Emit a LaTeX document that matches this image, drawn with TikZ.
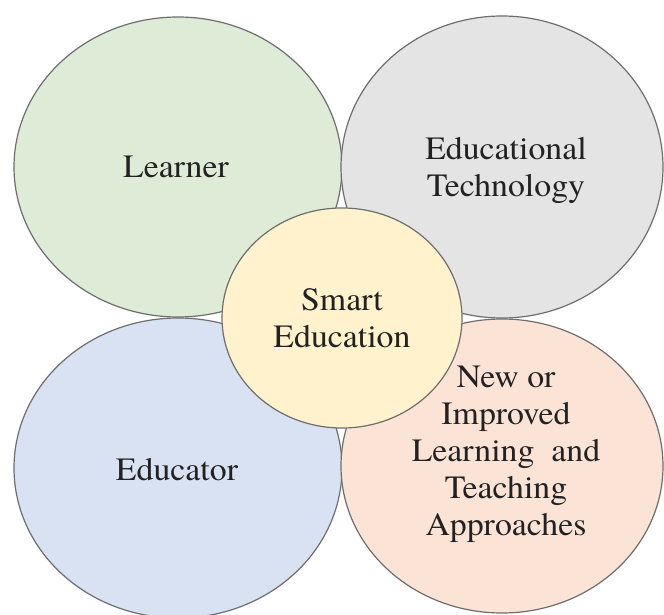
\documentclass[tikz,border=0pt]{standalone}
\usepackage{fontspec}
\setmainfont{texgyretermes}[Extension=.otf,UprightFont=*-regular,FakeStretch=1.04]
\usetikzlibrary{shapes.geometric}

\definecolor{learnergreen}{HTML}{DEEBD7}
\definecolor{techgray}{HTML}{E4E4E4}
\definecolor{educatorblue}{HTML}{D9E2F2}
\definecolor{approachpeach}{HTML}{FBE3D6}
\definecolor{smartyellow}{HTML}{FFF2CC}
\definecolor{bordergray}{HTML}{6E6E6E}
\definecolor{textgray}{HTML}{222222}

\begin{document}
\begin{tikzpicture}[x=1pt,y=-1pt,
        bubble/.style={shape=ellipse,draw=bordergray,line width=1.2pt,inner sep=0pt},
        bubbletext/.style={align=center,text=textgray,inner sep=0pt,font=\fontsize{32.5}{37}\selectfont}]
        \useasboundingbox[fill=white] (0,0) rectangle (664,615);

        \node[bubble,fill=learnergreen,minimum width=328,minimum height=300]   (L) at (178,167) {};
        \node[bubble,fill=techgray,minimum width=322,minimum height=302]       (T) at (502,167) {};
        \node[bubble,fill=educatorblue,minimum width=328,minimum height=300]   (E) at (178,468) {};
        \node[bubble,fill=approachpeach,minimum width=322,minimum height=294]  (A) at (502,466) {};
        \node[bubble,fill=smartyellow,minimum width=240,minimum height=220]    (S) at (342,318) {};

        \node[bubbletext] (Ltext) at (176,167) {Learner};
        \node[bubbletext] (Ttext) at (506,170) {Educational\\Technology};
        \node[bubbletext] (Etext) at (177,470) {Educator};
        \node[bubbletext] (Atext) at (506,454) {New or\\Improved\\Learning\ \ and\\Teaching\\Approaches};
        \node[bubbletext] (Stext) at (342,318) {Smart\\Education};
    \end{tikzpicture}
\end{document}
